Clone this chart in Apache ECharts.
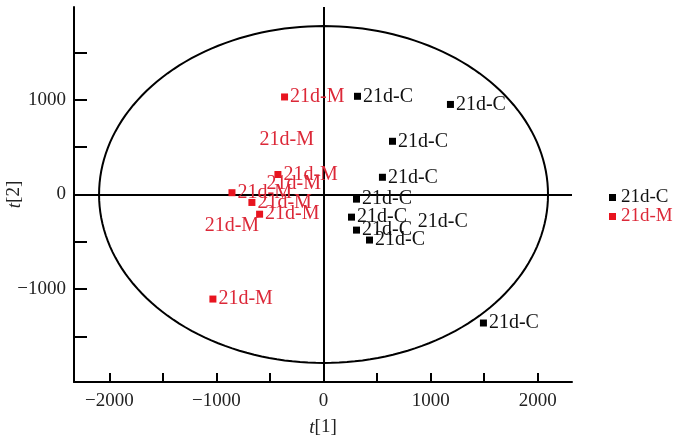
<!DOCTYPE html>
<html>
<head>
<meta charset="utf-8">
<script src="https://cdn.jsdelivr.net/npm/echarts@6/dist/echarts.min.js"></script>
<style>
    html, body {margin: 0; padding: 0; background: #fff;}
    #chart {width: 677px; height: 444px;}
</style>
</head>
<body>
<div id="chart"></div>
<script>
// scores t[1], t[2]
let cPoints = [
    [317, 1037], [1185, 951], [644, 562], [550, 182], [308, -49],
    [261, -239], [308, -376], [429, -481], [1493, -1357]
]
let mPoints = [
    [-364, 1030], [-426, 211], [-855, 19], [-669, -84], [-597, -208], [-1033, -1104]
]
// labels whose marker is not visible (hidden by overlap)
let cLabelOnly = [[880, -292]]
let mLabelOnly = [[-597, 573], [-532, 118], [-1110, -326]]

let ellipseRadii = [2096, 1779]
let xTicks = [-2000, -1500, -1000, -500, 0, 500, 1000, 1500, 2000]
let xLabels = [-2000, -1000, 0, 1000, 2000]
let yTicks = [-1500, -1000, -500, 0, 500, 1000, 1500]
let yLabels = [-1000, 0, 1000]

let RED = '#e8141f'
let RED_TEXT = '#dc2838'
let FONT = 'Liberation Serif'

function fmt(v) {
    return String(v).replace('-', '\u2212')
}

function pointSeries(name, color, textColor, pts, hidden) {
    let data = pts.map(p => ({value: p}))
    hidden.forEach(p => {
        data.push({value: p, symbolSize: 0, label: {distance: 0}})
    })
    return {
        name: name,
        type: 'scatter',
        symbol: 'rect',
        symbolSize: 7,
        itemStyle: {color: color, opacity: 1},
        label: {
            show: true,
            position: 'right',
            distance: 2,
            formatter: name,
            color: textColor,
            opacity: 1,
            fontFamily: FONT,
            fontSize: 20,
        },
        labelLayout: {hideOverlap: false},
        data: data,
        z: 5,
    }
}

let chart = echarts.init(document.getElementById('chart'), null, {renderer: 'canvas'})

let axisCommon = {
    axisLine: {show: true, onZero: false, lineStyle: {color: '#000', width: 2}},
    splitLine: {show: false},
    nameMoveOverlap: false,
    nameTextStyle: {
        fontFamily: FONT, fontSize: 19, color: '#222',
        rich: {i: {fontFamily: FONT, fontSize: 19, fontStyle: 'italic', color: '#222'}}
    },
}

chart.setOption({
    animation: false,
    backgroundColor: '#fff',
    grid: {left: 74, top: 7, right: 105, bottom: 62, containLabel: false, outerBoundsMode: 'none'},
    legend: {
        orient: 'vertical',
        left: 604,
        top: 183,
        icon: 'rect',
        itemWidth: 7,
        itemHeight: 7,
        itemGap: 0,
        itemStyle: {opacity: 1},
        textStyle: {fontFamily: FONT, fontSize: 19},
        data: [
            {name: '21d-C', textStyle: {color: '#111'}},
            {name: '21d-M', textStyle: {color: RED_TEXT}},
        ],
    },
    xAxis: Object.assign({}, axisCommon, {
        type: 'value',
        min: -2330,
        max: 2320,
        name: '{i|t}[1]',
        nameLocation: 'middle',
        nameGap: 36,
        axisTick: {show: true, inside: true, length: 9, customValues: xTicks,
            lineStyle: {color: '#000', width: 2}},
        axisLabel: {customValues: xLabels, formatter: fmt, margin: 10,
            fontFamily: FONT, fontSize: 19, color: '#222'},
    }),
    yAxis: Object.assign({}, axisCommon, {
        type: 'value',
        min: -1980,
        max: 1980,
        name: '{i|t}[2]',
        nameLocation: 'middle',
        nameGap: 50,
        axisTick: {show: true, inside: true, length: 13, customValues: yTicks,
            lineStyle: {color: '#000', width: 2}},
        axisLabel: {customValues: yLabels, formatter: fmt, margin: 8,
            fontFamily: FONT, fontSize: 19, color: '#222'},
    }),
    series: [
        {
            type: 'custom',
            silent: true,
            clip: false,
            data: [[0, 0]],
            renderItem: function (params, api) {
                let pts = []
                for (let i = 0; i <= 180; i++) {
                    let t = i / 180 * Math.PI * 2
                    pts.push(api.coord([ellipseRadii[0] * Math.cos(t), ellipseRadii[1] * Math.sin(t)]))
                }
                return {
                    type: 'polygon',
                    shape: {points: pts},
                    style: {fill: null, stroke: '#000', lineWidth: 2},
                }
            },
            z: 2,
        },
        Object.assign(pointSeries('21d-C', '#000', '#111', cPoints, cLabelOnly), {
            markLine: {
                silent: true,
                symbol: 'none',
                label: {show: false},
                lineStyle: {color: '#000', width: 2, type: 'solid', opacity: 1},
                data: [{xAxis: 0}, {yAxis: 0}],
            },
        }),
        pointSeries('21d-M', RED, RED_TEXT, mPoints, mLabelOnly),
    ],
})
</script>
</body>
</html>
